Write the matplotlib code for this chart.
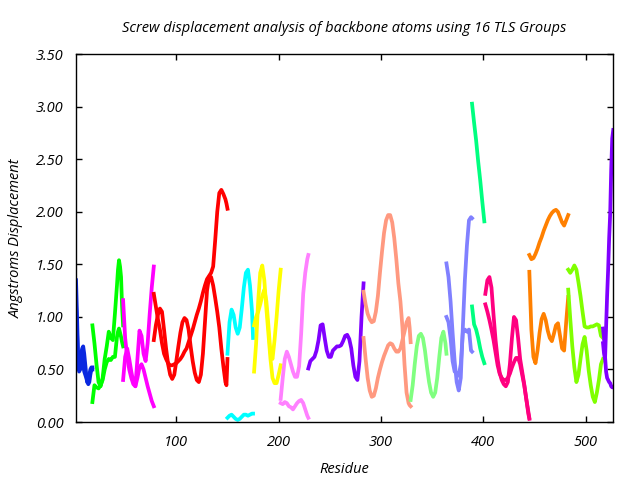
import matplotlib
matplotlib.use("Agg")
import matplotlib.pyplot as plt
from matplotlib.ticker import FormatStrFormatter

# TLS group colours (in segment order)
group_colors = ['#0a28e0', '#00ff00', '#ff00ff', '#ff0000', '#00ffff', '#ffff00',
                '#ff80ff', '#8000ff', '#ff9980', '#80ff80', '#8080ff', '#00ff80',
                '#ff0080', '#ff8000', '#80ff00', '#8000ff']

# group 1
g1_res = [2, 3, 4, 5, 6, 7, 8, 9, 10, 11, 12, 13, 14, 15, 16, 17, 18]
g1_a = [1.35, 1.00, 0.62, 0.52, 0.55, 0.65, 0.70, 0.72, 0.65, 0.55, 0.45, 0.38, 0.36, 0.38, 0.45, 0.50, 0.50]
g1_b = [1.13, 0.85, 0.60, 0.48, 0.50, 0.58, 0.60, 0.55, 0.48, 0.45, 0.42, 0.38, 0.40, 0.45, 0.50, 0.52, 0.52]

# group 2
g2_res = [18, 20, 22, 24, 26, 28, 30, 32, 34, 36, 38, 40, 42, 43, 44, 45, 46, 47, 48]
g2_a = [0.92, 0.75, 0.55, 0.38, 0.34, 0.42, 0.60, 0.72, 0.86, 0.80, 0.78, 1.03, 1.30, 1.45, 1.54, 1.48, 1.38, 1.10, 0.92]
g2_b = [0.19, 0.35, 0.33, 0.32, 0.35, 0.40, 0.50, 0.57, 0.60, 0.59, 0.62, 0.62, 0.81, 0.86, 0.89, 0.85, 0.81, 0.76, 0.72]

# group 3
g3_res = [48, 50, 52, 54, 56, 58, 60, 62, 64, 66, 68, 70, 72, 74, 76, 78]
g3_a = [1.16, 0.80, 0.62, 0.50, 0.42, 0.36, 0.34, 0.42, 0.52, 0.55, 0.50, 0.42, 0.34, 0.27, 0.20, 0.15]
g3_b = [0.40, 0.62, 0.70, 0.60, 0.48, 0.38, 0.34, 0.60, 0.87, 0.82, 0.65, 0.58, 0.75, 1.03, 1.28, 1.48]

# group 4
g4_res = [78, 80, 82, 84, 86, 88, 90, 92, 94, 96, 98, 100, 102, 104, 106, 108, 110, 112, 114,
          116, 118, 120, 122, 124, 126, 128, 130, 132, 134, 136, 138, 140, 142, 144, 146, 148, 149, 150]
g4_a = [1.22, 1.10, 0.98, 0.88, 0.75, 0.65, 0.60, 0.56, 0.54, 0.54, 0.55, 0.56, 0.58, 0.60, 0.63,
        0.67, 0.70, 0.76, 0.82, 0.88, 0.95, 1.02, 1.08, 1.15, 1.23, 1.30, 1.36, 1.39, 1.42, 1.48,
        1.73, 2.00, 2.18, 2.21, 2.17, 2.12, 2.08, 2.03]
g4_b = [0.78, 0.92, 1.02, 1.08, 1.05, 0.88, 0.70, 0.55, 0.45, 0.41, 0.45, 0.58, 0.72, 0.85, 0.95,
        0.99, 0.97, 0.88, 0.72, 0.58, 0.47, 0.40, 0.38, 0.45, 0.65, 0.95, 1.25, 1.38, 1.38, 1.30,
        1.18, 1.05, 0.90, 0.70, 0.53, 0.38, 0.35, 0.60]

# group 5
g5_res = [150, 152, 154, 156, 158, 160, 162, 164, 166, 168, 170, 172, 174, 175]
g5_a = [0.65, 0.95, 1.07, 1.02, 0.90, 0.84, 0.90, 1.08, 1.28, 1.42, 1.45, 1.30, 1.05, 0.80]
g5_b = [0.04, 0.06, 0.07, 0.05, 0.03, 0.02, 0.03, 0.05, 0.07, 0.07, 0.06, 0.07, 0.08, 0.08]

# group 6
g6_res = [176, 178, 180, 182, 184, 186, 188, 190, 192, 194, 196, 198, 200, 202]
g6_a = [0.48, 0.75, 1.15, 1.42, 1.49, 1.35, 1.08, 0.84, 0.60, 0.42, 0.37, 0.37, 0.45, 0.54]
g6_b = [0.92, 1.00, 1.05, 1.12, 1.20, 1.26, 1.15, 0.92, 0.66, 0.60, 0.78, 1.00, 1.25, 1.45]

# group 7
g7_res = [202, 204, 206, 208, 210, 212, 214, 216, 218, 220, 222, 224, 226, 228, 229]
g7_a = [0.22, 0.42, 0.60, 0.67, 0.62, 0.55, 0.48, 0.43, 0.43, 0.53, 0.84, 1.22, 1.42, 1.55, 1.59]
g7_b = [0.18, 0.17, 0.19, 0.18, 0.15, 0.14, 0.12, 0.15, 0.18, 0.20, 0.21, 0.18, 0.12, 0.06, 0.04]

# group 8
g8_res = [229, 231, 233, 235, 237, 239, 241, 243, 245, 247, 249, 251, 253, 255, 257, 259, 261,
          263, 265, 267, 269, 271, 273, 275, 277, 279, 281, 283]
g8_a = [0.51, 0.58, 0.60, 0.62, 0.68, 0.78, 0.92, 0.93, 0.80, 0.68, 0.62, 0.62, 0.68, 0.70,
        0.72, 0.72, 0.73, 0.77, 0.82, 0.83, 0.79, 0.70, 0.54, 0.43, 0.40, 0.58, 1.00, 1.32]

# group 9
g9_res = [283, 285, 287, 289, 291, 293, 295, 297, 299, 301, 303, 305, 307, 309, 311, 313, 315,
          317, 319, 321, 323, 325, 327, 328, 329]
g9_a = [1.24, 1.12, 1.03, 0.98, 0.95, 0.96, 1.05, 1.20, 1.42, 1.62, 1.80, 1.92, 1.97, 1.97, 1.90,
        1.75, 1.55, 1.32, 1.15, 0.90, 0.55, 0.28, 0.18, 0.16, 0.15]
g9_b = [0.80, 0.60, 0.42, 0.30, 0.24, 0.25, 0.32, 0.42, 0.50, 0.57, 0.63, 0.68, 0.73, 0.75, 0.74,
        0.70, 0.67, 0.67, 0.70, 0.78, 0.86, 0.95, 0.99, 0.90, 0.76]

# group 10
g10_res = [329, 331, 333, 335, 337, 339, 341, 343, 345, 347, 349, 351, 353, 355, 357, 359, 361, 363, 364]
g10_a = [0.21, 0.35, 0.55, 0.72, 0.82, 0.84, 0.80, 0.68, 0.52, 0.38, 0.28, 0.24, 0.28, 0.42,
         0.62, 0.80, 0.86, 0.75, 0.65]

# group 11
g11_res = [364, 366, 368, 370, 372, 374, 376, 378, 380, 382, 384, 386, 388, 389]
g11_a = [1.51, 1.38, 1.15, 0.85, 0.58, 0.38, 0.30, 0.42, 0.90, 1.35, 1.68, 1.92, 1.95, 1.94]
g11_b = [1.00, 0.95, 0.80, 0.58, 0.48, 0.47, 0.44, 0.55, 0.85, 0.88, 0.86, 0.88, 0.68, 0.67]

# group 12
g12_res = [389, 391, 393, 395, 397, 399, 401]
g12_a = [3.03, 2.85, 2.68, 2.48, 2.30, 2.10, 1.91]
g12_b = [1.10, 0.93, 0.88, 0.80, 0.70, 0.62, 0.56]

# group 13
g13_res = [402, 404, 406, 408, 410, 412, 414, 416, 418, 420, 422, 424, 426, 428, 430, 432, 434,
           436, 438, 440, 442, 444, 445]
g13_a = [1.22, 1.35, 1.38, 1.28, 1.02, 0.78, 0.60, 0.47, 0.40, 0.36, 0.34, 0.38, 0.55, 0.80,
         1.00, 0.97, 0.80, 0.60, 0.48, 0.36, 0.22, 0.08, 0.03]
g13_b = [1.12, 1.05, 0.97, 0.88, 0.78, 0.66, 0.54, 0.46, 0.42, 0.40, 0.40, 0.42, 0.46, 0.52,
         0.57, 0.61, 0.61, 0.55, 0.45, 0.35, 0.22, 0.10, 0.04]

# group 14
g14_res = [445, 447, 449, 451, 453, 455, 457, 459, 461, 463, 465, 467, 469, 471, 473, 475, 477, 479, 481, 483]
g14_a = [1.59, 1.55, 1.56, 1.60, 1.65, 1.71, 1.76, 1.82, 1.87, 1.92, 1.96, 1.99, 2.01, 2.02,
         2.00, 1.95, 1.90, 1.87, 1.92, 1.97]
g14_b = [1.43, 0.88, 0.62, 0.56, 0.68, 0.85, 0.98, 1.03, 0.97, 0.87, 0.80, 0.77, 0.84, 0.92,
         0.94, 0.82, 0.70, 0.68, 0.95, 1.19]

# group 15
g15_res = [483, 485, 487, 489, 491, 493, 495, 497, 499, 501, 503, 505, 507, 509, 511, 513, 515, 517]
g15_a = [1.45, 1.42, 1.45, 1.49, 1.45, 1.33, 1.20, 1.05, 0.91, 0.90, 0.90, 0.91, 0.91, 0.92,
         0.93, 0.92, 0.82, 0.80]
g15_b = [1.26, 0.98, 0.72, 0.52, 0.38, 0.45, 0.60, 0.74, 0.81, 0.68, 0.49, 0.35, 0.24, 0.19,
         0.28, 0.40, 0.55, 0.60]

# group 16
g16_res = [517, 518, 519, 520, 521, 522, 523, 524, 525, 526, 527]
g16_a = [0.89, 0.80, 0.62, 0.48, 0.42, 0.40, 0.38, 0.37, 0.34, 0.33, 0.33]
g16_b = [0.75, 0.65, 0.60, 0.90, 1.20, 1.45, 1.75, 1.98, 2.40, 2.70, 2.78]

groups = [
    (g1_res, [g1_a, g1_b]), (g2_res, [g2_a, g2_b]), (g3_res, [g3_a, g3_b]),
    (g4_res, [g4_a, g4_b]), (g5_res, [g5_a, g5_b]), (g6_res, [g6_a, g6_b]),
    (g7_res, [g7_a, g7_b]), (g8_res, [g8_a]), (g9_res, [g9_a, g9_b]),
    (g10_res, [g10_a]), (g11_res, [g11_a, g11_b]), (g12_res, [g12_a, g12_b]),
    (g13_res, [g13_a, g13_b]), (g14_res, [g14_a, g14_b]), (g15_res, [g15_a, g15_b]),
    (g16_res, [g16_a, g16_b]),
]

x_ticks = [100, 200, 300, 400, 500]
y_ticks = [0.0, 0.5, 1.0, 1.5, 2.0, 2.5, 3.0, 3.5]

plt.rcParams['font.family'] = ['Open Sans', 'DejaVu Sans']
plt.rcParams['font.style'] = 'italic'

fig = plt.figure(figsize=(6.4, 4.8), dpi=100)
ax = fig.add_axes([0.1188, 0.1208, 0.8386, 0.766])

for color, (res, curves) in zip(group_colors, groups):
    for vals in curves:
        ax.plot(res, vals, color=color, linewidth=2.7, solid_joinstyle='round')

ax.set_xlim(2, 526.5)
ax.set_ylim(0, 3.5)
ax.set_xticks(x_ticks)
ax.set_yticks(y_ticks)
ax.yaxis.set_major_formatter(FormatStrFormatter('%.2f'))
ax.tick_params(direction='in', length=4, width=1, top=True, right=True,
               labelsize=10.5, pad=9)
for sp in ax.spines.values():
    sp.set_linewidth(1.0)

ax.set_title('Screw displacement analysis of backbone atoms using 16 TLS Groups',
             fontsize=10.5, pad=16)
ax.set_xlabel('Residue', fontsize=10.5, labelpad=9)
ax.set_ylabel('Angstroms Displacement', fontsize=10.5, labelpad=9)

fig.savefig('out.png', dpi=100)
